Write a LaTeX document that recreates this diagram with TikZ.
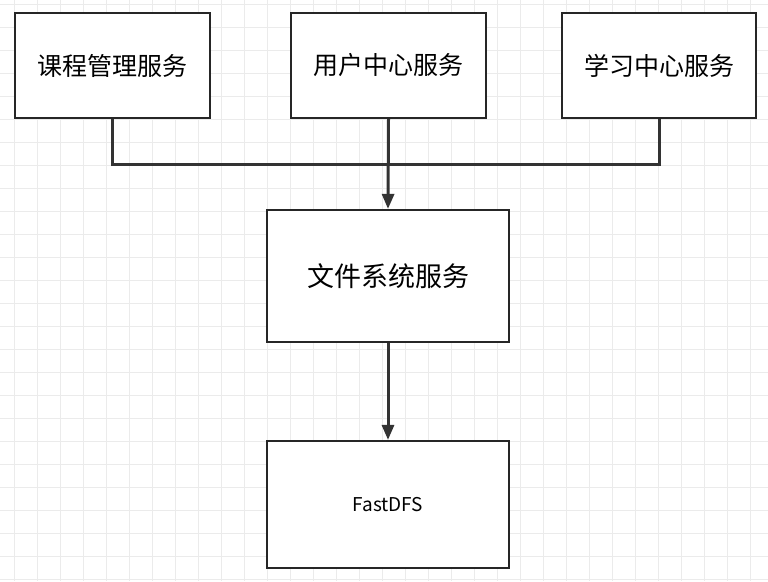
\documentclass[tikz,border=0pt]{standalone}
\usepackage{fontspec}
\setmainfont{Noto Sans CJK SC}
\usetikzlibrary{arrows.meta}
\begin{document}
\begin{tikzpicture}[x=1pt,y=-1pt,
  box/.style={draw=black!85,line width=2.2pt,fill=white,inner sep=0pt},
  conn/.style={draw=black!80,line width=3pt},
  arr/.style={conn,-{Triangle[length=15pt,width=12pt]}}]
\fill[white] (0,0) rectangle (768,581);
\useasboundingbox (0,0) rectangle (768,581);
\foreach \x in {14,37,...,768} \draw[black!8,line width=0.8pt] (\x,0) -- (\x,581);
\foreach \y in {4,27,...,581} \draw[black!8,line width=0.8pt] (0,\y) -- (768,\y);
\node[box,minimum width=195pt,minimum height=105pt,font=\fontsize{25pt}{28pt}\selectfont] (a) at (112.5,65.5) {课程管理服务};
\node[box,minimum width=195pt,minimum height=105pt,font=\fontsize{25pt}{28pt}\selectfont] (b) at (388.5,65.5) {用户中心服务};
\node[box,minimum width=194pt,minimum height=105pt,font=\fontsize{25pt}{28pt}\selectfont] (c) at (659,65.5) {学习中心服务};
\node[box,minimum width=242pt,minimum height=132pt,font=\fontsize{27pt}{30pt}\selectfont] (d) at (388,276) {文件系统服务};
\node[box,minimum width=242pt,minimum height=127pt,font=\fontsize{19pt}{22pt}\selectfont] (e) at (388,504.5) {FastDFS};
\coordinate (j) at (388,164);
\draw[conn] (a.south) |- (j) -| (c.south);
\draw[arr] (b.south) -- (d.north);
\draw[arr] (d.south) -- (e.north);
\end{tikzpicture}
\end{document}
